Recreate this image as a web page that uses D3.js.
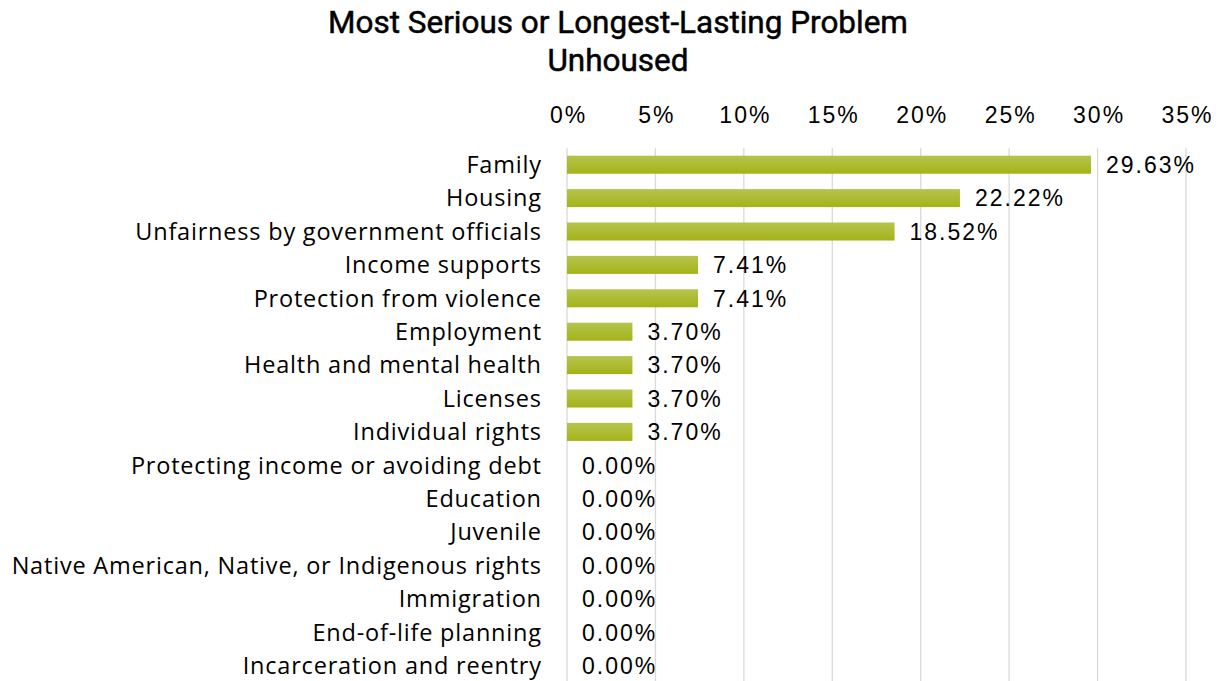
<!DOCTYPE html>
<html>
<head>
<meta charset="utf-8">
<script src="https://cdn.jsdelivr.net/npm/d3@7"></script>
<style>
  html, body { margin: 0; padding: 0; background: #fff; }
  svg { display: block; }
</style>
</head>
<body>
<svg id="chart" width="1221" height="681"></svg>
<script>
// Problem categories, top to bottom
const categories = [
  "Family",
  "Housing",
  "Unfairness by government officials",
  "Income supports",
  "Protection from violence",
  "Employment",
  "Health and mental health",
  "Licenses",
  "Individual rights",
  "Protecting income or avoiding debt",
  "Education",
  "Juvenile",
  "Native American, Native, or Indigenous rights",
  "Immigration",
  "End-of-life planning",
  "Incarceration and reentry"
];

// Share of respondents (percent)
const shares = [29.63, 22.22, 18.52, 7.41, 7.41, 3.70, 3.70, 3.70, 3.70, 0, 0, 0, 0, 0, 0, 0];

// Axis tick values (percent)
const tickValues = [0, 5, 10, 15, 20, 25, 30, 35];

const titleLines = ["Most Serious or Longest-Lasting Problem", "Unhoused"];

const svg = d3.select("#chart");
const margin = { left: 567, right: 35, top: 148 };
const width = 1221, height = 681;

const x = d3.scaleLinear().domain([0, 35]).range([margin.left, width - margin.right]);
const y = d3.scaleBand().domain(categories)
  .range([margin.top, margin.top + 33.4 * categories.length])
  .paddingInner(0.46).paddingOuter(0.23);

const labelFont = "'Liberation Sans', Arial, sans-serif";
const catFont = "'Open Sans', 'Liberation Sans', sans-serif";

// Bar fill gradient
const defs = svg.append("defs");
const grad = defs.append("linearGradient").attr("id", "barGrad")
  .attr("x1", 0).attr("y1", 0).attr("x2", 0).attr("y2", 1);
grad.append("stop").attr("offset", "0%").attr("stop-color", "#b6c44e");
grad.append("stop").attr("offset", "100%").attr("stop-color", "#a4b318");

// Title: two centred lines, sized so the first line spans ~580px
const title = svg.append("g").selectAll("text").data(titleLines).join("text")
  .attr("x", 618).attr("y", (d, i) => 33 + i * 38)
  .attr("text-anchor", "middle")
  .attr("font-family", "Roboto, 'Liberation Sans', sans-serif")
  .attr("font-size", 30)
  .attr("fill", "#000")
  .attr("stroke", "#000").attr("stroke-width", 0.5)
  .text(d => d);
const natural = title.nodes()[0].getComputedTextLength();
title.attr("font-size", Math.min(34, 30 * 580 / natural));

// Vertical gridlines
svg.append("g").selectAll("line").data(tickValues).join("line")
  .attr("x1", d => x(d)).attr("x2", d => x(d))
  .attr("y1", margin.top).attr("y2", height)
  .attr("stroke", "#d9d9d9").attr("stroke-width", 1.3);

// Top axis labels
const axis = d3.axisTop(x).tickValues(tickValues).tickFormat(d => d + "%").tickSize(0).tickPadding(0);
const axisG = svg.append("g").attr("transform", "translate(0,123)").call(axis);
axisG.select(".domain").remove();
axisG.selectAll("text")
  .attr("font-family", labelFont).attr("font-size", 23).attr("fill", "#000")
  .attr("letter-spacing", 2).attr("dx", 1)
  .attr("dy", 0);

// Category labels
const catAxis = d3.axisLeft(y).tickSize(0).tickPadding(0);
const catG = svg.append("g").attr("transform", `translate(${margin.left - 26},0)`).call(catAxis);
catG.select(".domain").remove();
catG.selectAll("text")
  .attr("font-family", catFont).attr("font-size", 23.5).attr("fill", "#000")
  .attr("letter-spacing", 0.8).attr("dx", 0.8)
  .attr("dy", "0.35em");

// Bars
svg.append("g").selectAll("rect").data(shares).join("rect")
  .attr("x", x(0))
  .attr("y", (d, i) => y(categories[i]))
  .attr("width", d => x(d) - x(0))
  .attr("height", y.bandwidth())
  .attr("fill", "url(#barGrad)");

// Value labels
svg.append("g").selectAll("text").data(shares).join("text")
  .attr("x", d => x(d) + 15)
  .attr("y", (d, i) => y(categories[i]) + y.bandwidth() / 2)
  .attr("dy", "0.36em")
  .attr("font-family", labelFont).attr("font-size", 23).attr("fill", "#000")
  .attr("letter-spacing", 2)
  .text(d => d.toFixed(2) + "%");
</script>
</body>
</html>
